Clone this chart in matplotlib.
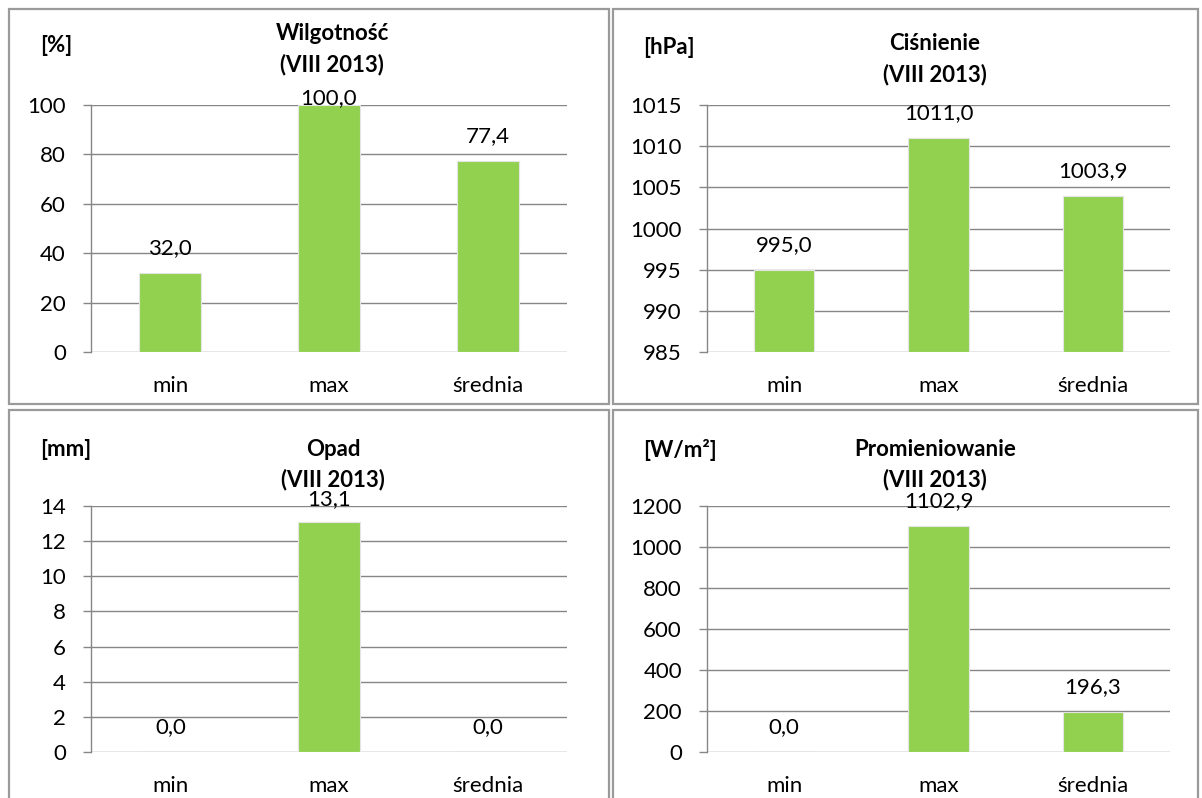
import matplotlib.pyplot as plt
from matplotlib.patches import Rectangle

plt.rcParams["font.family"] = ["Lato", "DejaVu Sans"]

W, H = 1202, 798

categories = ["min", "max", "średnia"]
humidity = [32.0, 100.0, 77.4]
pressure = [995.0, 1011.0, 1003.9]
rain = [0.0, 13.1, 0.0]
radiation = [0.0, 1102.9, 196.3]

titles = ["Wilgotność", "Ciśnienie", "Opad", "Promieniowanie"]
units = ["[%]", "[hPa]", "[mm]", "[W/m²]"]
period = "(VIII 2013)"
y_ranges = [(0, 100, 20), (985, 1015, 5), (0, 14, 2), (0, 1200, 200)]

BAR = "#92d050"
GRID = "#868686"
BORDER = "#9a9a9a"
FS = 16


def fmt(v):
    return f"{v:.1f}".replace(".", ",")


fig = plt.figure(figsize=(W / 100, H / 100), dpi=100)

# ramki paneli (x0, y0, x1, y1 w pikselach)
panels = [(9, 9, 609, 404), (613, 9, 1198, 404), (9, 410, 609, 810), (613, 410, 1198, 810)]
for x0, y0, x1, y1 in panels:
    fig.patches.append(Rectangle((x0 / W, 1 - y1 / H), (x1 - x0) / W, (y1 - y0) / H,
                                 transform=fig.transFigure, fill=False,
                                 edgecolor=BORDER, linewidth=1.6))

# obszary wykresow
plots = [(91, 105, 567, 352), (707, 105, 1170, 352), (91, 506, 567, 752), (707, 506, 1170, 752)]
# przesuniecia tytulow wzgledem gornej krawedzi wykresu
title_offsets = [(-72, -40, -59), (-62, -30, -58), (-56, -26, -56), (-56, -26, -56)]
unit_x = [40, 643, 40, 643]
title_x = [332, 935, 333, 935]

for i, values in enumerate([humidity, pressure, rain, radiation]):
    x0, y0, x1, y1 = plots[i]
    ax = fig.add_axes([x0 / W, 1 - y1 / H, (x1 - x0) / W, (y1 - y0) / H])
    ymin, ymax, step = y_ranges[i]
    xs = range(len(categories))
    ax.bar(xs, [v - ymin for v in values], bottom=ymin, width=0.39, color=BAR,
           edgecolor="#e4e4e4", linewidth=0.8, zorder=3)
    ax.set_xlim(-0.5, len(categories) - 0.5)
    ax.set_ylim(ymin, ymax)
    ax.set_yticks(range(ymin, ymax + 1, step))
    ax.set_xticks(list(xs))
    ax.set_xticklabels(categories)
    ax.tick_params(axis="x", length=0, pad=17, labelsize=FS)
    ax.tick_params(axis="y", length=6, width=1.0, color=GRID, pad=12, labelsize=FS)
    ax.grid(axis="y", color=GRID, linewidth=1.0, zorder=0)
    for s in ["top", "right", "bottom"]:
        ax.spines[s].set_visible(False)
    ax.spines["left"].set_color(GRID)
    ax.spines["left"].set_linewidth(1.0)

    # etykiety danych
    h_px = y1 - y0
    for x, v in zip(xs, values):
        top_px = (v - ymin) / (ymax - ymin) * h_px
        lab_px = min(top_px + 25, h_px + 7)
        ax.text(x, ymin + lab_px / h_px * (ymax - ymin), fmt(v), ha="center", va="center",
                fontsize=FS, clip_on=False, zorder=4)

    t1, t2, tu = title_offsets[i]
    fig.text(title_x[i] / W, 1 - (y0 + t1) / H, titles[i], ha="center", va="center",
             fontsize=FS, fontweight="bold")
    fig.text(title_x[i] / W, 1 - (y0 + t2) / H, period, ha="center", va="center",
             fontsize=FS, fontweight="bold")
    fig.text(unit_x[i] / W, 1 - (y0 + tu) / H, units[i], ha="left", va="center",
             fontsize=FS, fontweight="bold")

fig.savefig("out.png", dpi=100)
